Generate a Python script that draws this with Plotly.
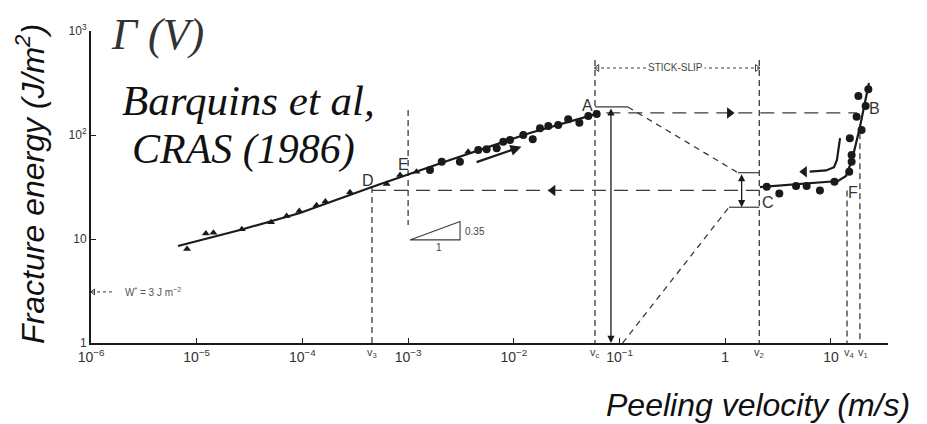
import numpy as np
import plotly.graph_objects as go

# ---------------- data ----------------
# low-velocity branch, triangles
tri_v = [8.1e-6, 1.22e-5, 1.44e-5, 2.67e-5, 5.05e-5, 7.1e-5, 9.35e-5, 1.36e-4,
         1.65e-4, 2.82e-4, 6.27e-4, 8.4e-4, 1.2e-3, 3.7e-3]
tri_G = [8.0, 11.3, 11.5, 12.4, 14.5, 16.6, 18.6, 21.1, 23.0, 28.1, 33.8, 41.2, 44.4, 69.2]
# low-velocity branch, circles
circ_v = [1.61e-3, 2.08e-3, 3.09e-3, 4.61e-3, 5.53e-3, 6.89e-3, 7.94e-3, 9.2e-3,
          1.23e-2, 1.51e-2, 1.77e-2, 2.12e-2, 2.63e-2, 3.27e-2, 4.17e-2, 5.07e-2, 6.08e-2]
circ_G = [46.0, 55.3, 55.3, 71.8, 72.8, 74.5, 86.3, 89.5, 100.0, 90.8, 115.9, 122.2,
          124.7, 141.6, 131.2, 152.4, 159.2]
# high-velocity branch, circles
high_v = [2.47, 3.25, 4.68, 5.89, 7.87, 10.8, 14.9, 15.7, 15.7, 15.1, 19.5, 17.5, 21.3, 18.2, 22.6]
high_G = [31.8, 27.4, 32.4, 32.4, 29.2, 35.6, 44.4, 55.3, 64.3, 92.9, 111.7, 150.0, 190.0, 237.0, 275.0]
# drawn curves
fit1_v = [6.65e-6, 2.57e-5, 9.48e-5, 4.55e-4, 2.49e-3, 1.42e-2, 6.53e-2]
fit1_G = [8.57, 12.2, 17.8, 31.6, 57.5, 104.5, 163.0]
fit2_v = [2.13, 5.1, 11.7, 13.9, 15.85, 18.8, 22.9]
fit2_G = [31.6, 33.8, 36.1, 40.4, 57.5, 119.4, 316.0]

# characteristic velocities and levels
v3, vE, vc, v_ss, v2, v4, v1 = 4.55e-4, 1.0e-3, 0.0586, 0.083, 2.1, 14.2, 18.8
G_A, G_Atop, G_D, G_Cup, G_Clow, G_ss, W_star = 163.0, 186.0, 29.3, 43.4, 20.2, 441.0, 3.1
G_top_dash = 525.0
diag1_v, diag1_G = [0.12, 1.32], [G_Atop, G_Cup]
diag2_v, diag2_G = [0.107, 1.086], [1.0, G_Clow]
slope_v = [1.04e-3, 3.1e-3, 3.1e-3, 1.04e-3]
slope_G = [9.8, 9.8, 14.7, 9.8]
curl_v = [12.2, 11.4, 10.7, 9.0, 6.3]
curl_G = [93.5, 57.5, 49.0, 45.6, 44.4]

x_ticks = [1e-6, 1e-5, 1e-4, 1e-3, 1e-2, 1e-1, 1, 10]
x_ticktext = ["10<sup>−6</sup>", "10<sup>−5</sup>", "10<sup>−4</sup>", "10<sup>−3</sup>",
              "10<sup>−2</sup>", "10<sup>−1</sup>", "1", "10"]
y_ticks = [1, 10, 100, 1000]
y_ticktext = ["1", "10", "10<sup>2</sup>", "10<sup>3</sup>"]

INK = "#1a1a1a"
DASH = "#3a3a3a"
L = np.log10

fig = go.Figure()

def line(xs, ys, dash="solid", width=1.3, color=DASH):
    fig.add_trace(go.Scatter(x=xs, y=ys, mode="lines", showlegend=False, hoverinfo="skip",
                             line=dict(color=color, width=width, dash=dash)))

# vertical dashed construction lines
line([v3, v3], [G_D * 1.08, 1.0], dash="6px,4px")
line([vE, vE], [174, 13.6], dash="6px,4px")
line([vc, vc], [G_top_dash, 1.0], dash="6px,4px")
line([v2, v2], [G_top_dash, 1.0], dash="6px,4px")
line([v4, v4], [G_D, 1.0], dash="6px,4px")
line([v1, v1], [104, 1.0], dash="6px,4px")
# horizontal dashed lines
line([0.075, 17.6], [G_A, G_A], dash="14px,8px")
line([v3, v2], [G_D, G_D], dash="14px,8px")
# diagonals
line(diag1_v, diag1_G, dash="6px,5px")
line(diag2_v, diag2_G, dash="6px,5px")
# brackets
line([vc, 0.12], [G_Atop, G_Atop], width=1.2)
line([1.32, v2], [G_Cup, G_Cup], width=1.2)
line([1.086, v2], [G_Clow, G_Clow], width=1.2)
# stick-slip dotted arrow
line([vc, v2], [G_ss, G_ss], dash="dot", width=1)
# W* dotted arrow
line([1.0e-6, 1.6e-6], [W_star, W_star], dash="dot", width=1)
# slope triangle
line(slope_v, slope_G, width=1.1)
# curved arrow
line(curl_v, curl_G, width=2.2, color=INK)

# arrowheads on dashed lines
fig.add_trace(go.Scatter(x=[1.1], y=[G_A], mode="markers", showlegend=False, hoverinfo="skip",
                         marker=dict(symbol="triangle-right", size=10, color=INK)))
fig.add_trace(go.Scatter(x=[0.0234], y=[G_D], mode="markers", showlegend=False, hoverinfo="skip",
                         marker=dict(symbol="triangle-left", size=10, color=INK)))
fig.add_trace(go.Scatter(x=[0.0615, 2.0], y=[G_ss, G_ss], mode="markers", showlegend=False,
                         hoverinfo="skip",
                         marker=dict(symbol=["triangle-left-open", "triangle-right-open"], size=6,
                                     color=DASH, line=dict(width=1))))
fig.add_trace(go.Scatter(x=[1.05e-6], y=[W_star], mode="markers", showlegend=False, hoverinfo="skip",
                         marker=dict(symbol="triangle-left-open", size=5, color=DASH, line=dict(width=1))))
fig.add_trace(go.Scatter(x=[5.6], y=[G_Cup * 1.023], mode="markers", showlegend=False, hoverinfo="skip",
                         marker=dict(symbol="triangle-left", size=10, color=INK)))

# fitted curves
line(fit1_v, fit1_G, width=2.2, color=INK)
line(fit2_v, fit2_G, width=2.2, color=INK)

# data points
fig.add_trace(go.Scatter(x=tri_v, y=tri_G, mode="markers", showlegend=False,
                         marker=dict(symbol="triangle-up", size=7, color=INK)))
fig.add_trace(go.Scatter(x=circ_v, y=circ_G, mode="markers", showlegend=False,
                         marker=dict(symbol="circle", size=8, color=INK)))
fig.add_trace(go.Scatter(x=high_v, y=high_G, mode="markers", showlegend=False,
                         marker=dict(symbol="circle", size=8, color=INK)))

ann = []
# arrows (annotations use log10 coordinates on log axes)
ann.append(dict(x=L(v_ss), y=L(1.0), ax=L(v_ss), ay=L(G_Atop), xref="x", yref="y", axref="x", ayref="y",
                showarrow=True, arrowhead=2, startarrowhead=2, arrowside="end+start", arrowsize=1.1,
                arrowwidth=1.3, arrowcolor=INK, text=""))
ann.append(dict(x=L(1.43), y=L(G_Clow), ax=L(1.43), ay=L(G_Cup), xref="x", yref="y", axref="x", ayref="y",
                showarrow=True, arrowhead=2, startarrowhead=2, arrowside="end+start", arrowsize=1.1,
                arrowwidth=1.3, arrowcolor=INK, text=""))
ann.append(dict(x=L(0.0118), y=L(77.3), ax=L(4.3e-3), ay=L(54.2), xref="x", yref="y", axref="x", ayref="y",
                showarrow=True, arrowhead=2, arrowsize=1.0, arrowwidth=2.2, arrowcolor=INK, text=""))

# letters
for t, xv, yv in [("A", 0.0503, 194), ("B", 26.1, 178), ("C", 2.54, 22.2),
                  ("D", 4.18e-4, 36.9), ("E", 8.95e-4, 51.5), ("F", 16.2, 28.3)]:
    ann.append(dict(x=L(xv), y=L(yv), xref="x", yref="y", text=t, showarrow=False,
                    font=dict(family="Liberation Sans", size=16, color="#333")))
# velocity labels
for t, xv in [("v<sub>3</sub>", v3), ("v<sub>c</sub>", vc), ("v<sub>2</sub>", v2),
              ("v<sub>4</sub>", v4 * 1.05), ("v<sub>1</sub>", v1 * 1.06)]:
    ann.append(dict(x=L(xv), y=0, xref="x", yref="paper", yanchor="top", yshift=-1, text=t,
                    showarrow=False, font=dict(family="Liberation Sans", size=11, color="#444")))
# small texts
ann.append(dict(x=L(0.335), y=L(G_ss), xref="x", yref="y", text="STICK-SLIP", showarrow=False,
                bgcolor="white", font=dict(family="Liberation Sans", size=10, color="#444")))
ann.append(dict(x=L(3.9e-6), y=L(W_star), xref="x", yref="y",
                text="W<sup>*</sup> = 3 J m<sup>−2</sup>", showarrow=False,
                font=dict(family="Liberation Sans", size=10, color="#555")))
ann.append(dict(x=L(4.3e-3), y=L(11.7), xref="x", yref="y", text="0.35", showarrow=False,
                font=dict(family="Liberation Sans", size=10, color="#444")))
ann.append(dict(x=L(1.96e-3), y=L(8.2), xref="x", yref="y", text="1", showarrow=False,
                font=dict(family="Liberation Sans", size=10, color="#444")))
# big texts
ann.append(dict(x=0, y=1, xref="paper", yref="paper", xanchor="left", yanchor="middle", xshift=18, yshift=-3,
                text="Γ\u00a0(V)", showarrow=False,
                font=dict(family="Liberation Serif", size=44, color="#333", style="italic")))
ann.append(dict(x=L(1.88e-6), y=L(217), xref="x", yref="y", xanchor="left", text="Barquins et al,",
                showarrow=False, font=dict(family="Liberation Serif", size=43, color="#111", style="italic")))
ann.append(dict(x=L(2.34e-6), y=L(72), xref="x", yref="y", xanchor="left", text="CRAS (1986)",
                showarrow=False, font=dict(family="Liberation Serif", size=42, color="#111", style="italic")))
# axis titles
ann.append(dict(x=0, y=0.51, xref="paper", yref="paper", xanchor="center", yanchor="middle", xshift=-61,
                textangle=-90, text="Fracture energy (J/m<sup>2</sup>)", showarrow=False,
                font=dict(family="Liberation Sans", size=32, color="#111", style="italic")))
ann.append(dict(x=1, y=0, xref="paper", yref="paper", xanchor="right", yanchor="middle", xshift=24,
                yshift=-62, text="Peeling velocity (m/s)", showarrow=False,
                font=dict(family="Liberation Sans", size=32, color="#111", style="italic")))

# the page body adds an 8px margin, so the figure is 8px smaller and shifted
fig.update_layout(
    width=919, height=416, margin=dict(l=83, r=39, t=23, b=81),
    paper_bgcolor="white", plot_bgcolor="white", showlegend=False,
    annotations=ann,
    xaxis=dict(type="log", range=[-6, 1.54], showgrid=False, zeroline=False, showline=True,
               linecolor=INK, linewidth=2, ticks="inside", ticklen=5, tickcolor=INK,
               tickvals=x_ticks, ticktext=x_ticktext,
               tickfont=dict(family="Liberation Sans", size=14, color="#333")),
    yaxis=dict(type="log", range=[0, 3.0], showgrid=False, zeroline=False, showline=True,
               linecolor=INK, linewidth=2, ticks="inside", ticklen=5, tickcolor=INK,
               tickvals=y_ticks, ticktext=y_ticktext,
               tickfont=dict(family="Liberation Sans", size=12, color="#333")),
)

fig.write_html("out.html")
